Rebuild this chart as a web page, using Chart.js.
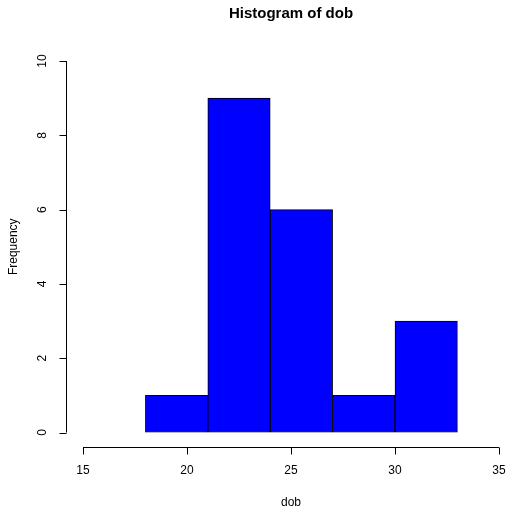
<!DOCTYPE html>
<html>
<head>
<meta charset="utf-8">
<script src="https://cdn.jsdelivr.net/npm/chart.js@4"></script>
<style>
  html, body { margin: 0; padding: 0; background: #fff; }
  #wrap { width: 509px; height: 508px; }
</style>
</head>
<body>
<div id="wrap"><canvas id="hist" width="509" height="508"></canvas></div>
<script>
// histogram of dob: bin edges and counts
const breaks = [18, 21, 24, 27, 30, 33];
const counts = [1, 9, 6, 1, 3];
const xTicks = [15, 20, 25, 30, 35];
const yTicks = [0, 2, 4, 6, 8, 10];

const mids = counts.map((c, i) => (breaks[i] + breaks[i + 1]) / 2);
const FONT = 'Liberation Sans, Arial, Helvetica, sans-serif';

// R-style detached axes drawn from the chart's own scales
const rAxes = {
  id: 'rAxes',
  afterDraw(chart) {
    const ctx = chart.ctx;
    const xs = chart.scales.x, ys = chart.scales.y;
    ctx.save();
    ctx.strokeStyle = '#000';
    ctx.fillStyle = '#000';
    ctx.lineWidth = 1;

    // x axis
    const axY = 447.5;
    ctx.beginPath();
    ctx.moveTo(xs.getPixelForValue(xTicks[0]), axY);
    ctx.lineTo(xs.getPixelForValue(xTicks[xTicks.length - 1]), axY);
    xTicks.forEach(t => {
      const px = Math.round(xs.getPixelForValue(t)) + 0.5;
      ctx.moveTo(px, axY);
      ctx.lineTo(px, axY + 7);
    });
    ctx.stroke();
    ctx.font = '12px ' + FONT;
    ctx.textAlign = 'center';
    ctx.textBaseline = 'middle';
    xTicks.forEach(t => ctx.fillText(String(t), xs.getPixelForValue(t), 471));

    // y axis
    const axX = 66.5;
    ctx.beginPath();
    ctx.moveTo(axX, ys.getPixelForValue(yTicks[0]));
    ctx.lineTo(axX, ys.getPixelForValue(yTicks[yTicks.length - 1]));
    yTicks.forEach(t => {
      const py = Math.round(ys.getPixelForValue(t)) + 0.5;
      ctx.moveTo(axX, py);
      ctx.lineTo(axX - 7, py);
    });
    ctx.stroke();
    yTicks.forEach(t => {
      ctx.save();
      ctx.translate(43, ys.getPixelForValue(t));
      ctx.rotate(-Math.PI / 2);
      ctx.fillText(String(t), 0, 0);
      ctx.restore();
    });

    // axis titles
    ctx.fillText('dob', xs.getPixelForValue(25), 503);
    ctx.save();
    ctx.translate(14, ys.getPixelForValue(5));
    ctx.rotate(-Math.PI / 2);
    ctx.fillText('Frequency', 0, 0);
    ctx.restore();

    // main title
    ctx.font = 'bold 15px ' + FONT;
    ctx.fillText('Histogram of dob', xs.getPixelForValue(25), 14);
    ctx.restore();
  }
};

new Chart(document.getElementById('hist'), {
  type: 'bar',
  data: {
    datasets: [{
      data: mids.map((m, i) => ({ x: m, y: counts[i] })),
      backgroundColor: '#0000ff',
      borderColor: '#000',
      borderWidth: 1,
      barPercentage: 1,
      categoryPercentage: 1,
      borderSkipped: false
    }]
  },
  options: {
    responsive: false,
    animation: false,
    layout: { padding: { left: 83, right: 10, top: 61, bottom: 75.5 } },
    plugins: { legend: { display: false }, tooltip: { enabled: false } },
    scales: {
      x: { type: 'linear', min: 15, max: 35, display: false, offset: false },
      y: { min: 0, max: 10, display: false }
    }
  },
  plugins: [rAxes]
});
</script>
</body>
</html>
